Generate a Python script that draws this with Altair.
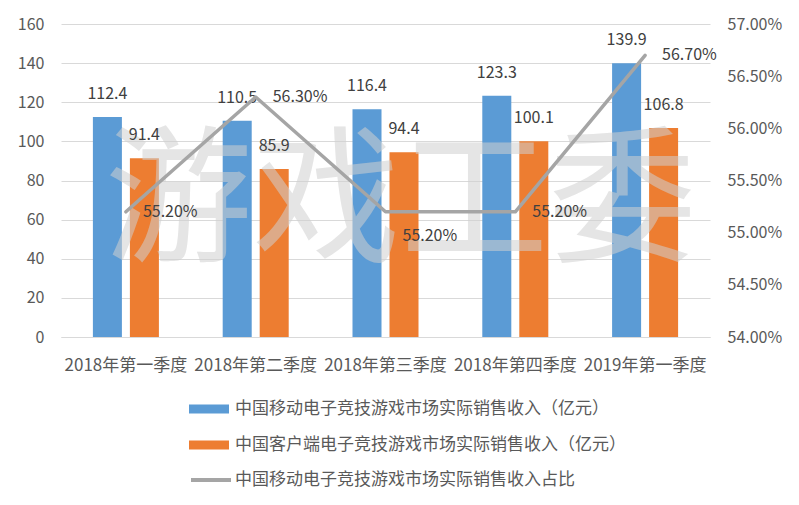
import altair as alt
import pandas as pd

categories = ["2018年第一季度", "2018年第二季度", "2018年第三季度", "2018年第四季度", "2019年第一季度"]
mobile = [112.4, 110.5, 116.4, 123.3, 139.9]
client = [91.4, 85.9, 94.4, 100.1, 106.8]
share = [0.552, 0.563, 0.552, 0.552, 0.567]
series_names = ["中国移动电子竞技游戏市场实际销售收入（亿元）", "中国客户端电子竞技游戏市场实际销售收入（亿元）"]
line_name = "中国移动电子竞技游戏市场实际销售收入占比"
left_ticks = [0, 20, 40, 60, 80, 100, 120, 140, 160]
right_ticks = [0.54, 0.545, 0.55, 0.555, 0.56, 0.565, 0.57]
watermark = "游戏工委"

FONT = "Noto Sans CJK SC"
TXT = "#595959"
LBL = "#404040"

bars_df = pd.DataFrame({
    "cat": categories * 2,
    "series": [series_names[0]] * 5 + [series_names[1]] * 5,
    "value": mobile + client,
})
line_df = pd.DataFrame({"cat": categories, "share": share, "series2": [line_name] * 5})
wm_df = pd.DataFrame({"cat": [categories[2]], "value": [67], "t": [watermark]})

x_enc = alt.X("cat:N", sort=categories,
              scale=alt.Scale(paddingInner=0, paddingOuter=0),
              axis=alt.Axis(title=None, labelAngle=0, labelFontSize=17, labelColor=TXT,
                            labelPadding=20, ticks=False, domain=True, domainColor="#d9d9d9",
                            grid=False, labelOverlap=False, labelBound=False))
xoff = alt.XOffset("series:N", sort=series_names,
                   scale=alt.Scale(paddingInner=0.216, paddingOuter=0.862))
left_axis = alt.Axis(title=None, orient="left", values=left_ticks, labelFontSize=16,
                     labelColor=TXT, labelPadding=17, ticks=False, domain=False,
                     labelOverlap=False, grid=True, gridColor="#d9d9d9", gridWidth=1,
                     tickCount=9)
y_left = alt.Y("value:Q", scale=alt.Scale(domain=[0, 160], nice=False), axis=left_axis)

bars = alt.Chart(bars_df).mark_bar().encode(
    x=x_enc, xOffset=xoff, y=y_left,
    color=alt.Color("series:N", sort=series_names,
                    scale=alt.Scale(domain=series_names, range=["#5b9bd5", "#ed7d31"]),
                    legend=alt.Legend(title=None, orient="none", legendX=128, legendY=365,
                                      symbolType="M-1,-0.225L1,-0.225L1,0.225L-1,0.225Z",
                                      symbolSize=1600, symbolStrokeWidth=0, labelFontSize=17,
                                      labelColor=TXT, labelOffset=6, rowPadding=8, padding=0,
                                      labelLimit=600)),
)
bar_labels = alt.Chart(bars_df).mark_text(dy=-23, fontSize=16, color=LBL, baseline="middle").encode(
    x=alt.X("cat:N", sort=categories), xOffset=xoff, y=y_left,
    text=alt.Text("value:Q", format=".1f"),
)
wm = alt.Chart(wm_df).mark_text(fontSize=148, fontWeight=400, color="#d0d0d0", opacity=0.55,
                                 baseline="middle", dx=15).encode(
    x=alt.X("cat:N", sort=categories), y=y_left, text="t:N",
)
left = alt.layer(bars, wm, bar_labels)

y_right = alt.Y("share:Q", scale=alt.Scale(domain=[0.54, 0.57], nice=False, zero=False),
                axis=alt.Axis(title=None, orient="right", values=right_ticks, format=".2%",
                              labelFontSize=16, labelColor=TXT, labelPadding=17, ticks=False,
                              labelOverlap=False, domain=False, grid=False))
line = alt.Chart(line_df).mark_line(strokeWidth=3.5, strokeCap="round", strokeJoin="round").encode(
    x=alt.X("cat:N", sort=categories), y=y_right,
    stroke=alt.Stroke("series2:N", scale=alt.Scale(domain=[line_name], range=["#a5a5a5"]),
                      legend=alt.Legend(title=None, orient="none", legendX=128, legendY=434,
                                        symbolType="stroke", symbolSize=1600, symbolStrokeWidth=4,
                                        labelFontSize=17, labelColor=TXT, labelOffset=2, padding=0,
                                        labelLimit=600)),
)
line_labels = alt.Chart(line_df).transform_filter(f"datum.cat != '{categories[2]}'").mark_text(
    align="left", dx=17, baseline="middle", fontSize=16, color=LBL).encode(
    x=alt.X("cat:N", sort=categories), y=y_right, text=alt.Text("share:Q", format=".2%"),
)
line_label_q3 = alt.Chart(line_df).transform_filter(f"datum.cat == '{categories[2]}'").mark_text(
    align="left", dx=17, dy=24, baseline="middle", fontSize=16, color=LBL).encode(
    x=alt.X("cat:N", sort=categories), y=y_right, text=alt.Text("share:Q", format=".2%"),
)
right = alt.layer(line, line_labels, line_label_q3)

chart = alt.layer(left, right).resolve_scale(y="independent").properties(
    width=649, height=313,
    padding={"left": 53, "top": 16, "right": 80, "bottom": 159},
    autosize=alt.AutoSizeParams(type="none"),
).configure(font=FONT).configure_axis(labelOverlap=False).configure_view(stroke=None)

chart.save("out.html", embed_options={"renderer": "svg", "actions": False})
